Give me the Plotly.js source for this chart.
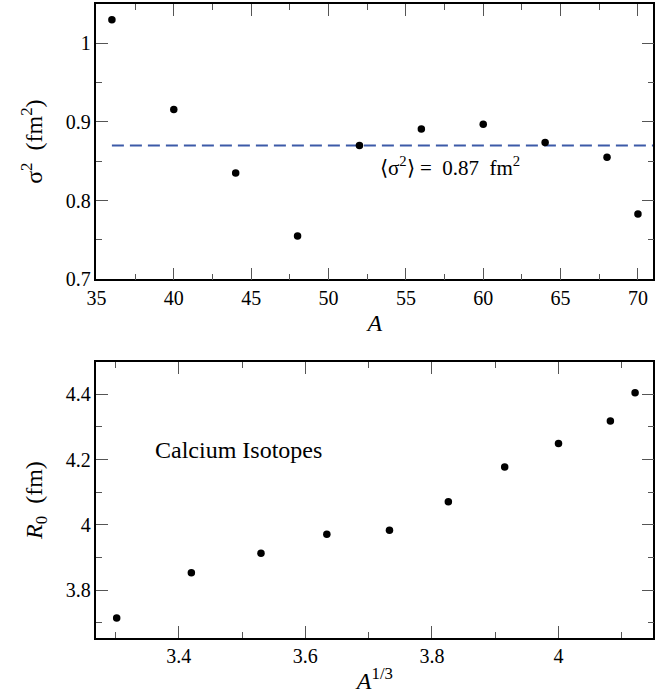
<!DOCTYPE html>
<html>
<head>
<meta charset="utf-8">
<script src="https://cdn.plot.ly/plotly-3.0.1.min.js"></script>
</head>
<body style="margin:0;background:#fff">
<div id="chart" style="width:665px;height:698px;"></div>
<script>
// Top panel: sigma^2 vs A
const massNumbers = [36, 40, 44, 48, 52, 56, 60, 64, 68, 70];
const sigmaSquared = [1.030, 0.916, 0.835, 0.755, 0.870, 0.891, 0.897, 0.874, 0.855, 0.783];
const meanLineX = [36, 71];
const meanLineY = [0.87, 0.87];
const meanLabel = "\u27E8\u03C3<sup>2</sup>\u27E9 =  0.87  fm<sup>2</sup>";

// Bottom panel: R0 vs A^(1/3)
const cubeRootA = [3.302, 3.420, 3.530, 3.634, 3.733, 3.826, 3.915, 4.000, 4.082, 4.121];
const radiusR0 = [3.714, 3.853, 3.913, 3.971, 3.983, 4.071, 4.177, 4.249, 4.318, 4.405];
const panelLabel = "Calcium Isotopes";

const FAM = "Liberation Serif";

function axisBase(extra) {
  return Object.assign({
    showline: true, linecolor: "#000", linewidth: 1.5, mirror: "ticks",
    ticks: "inside", ticklen: 12, tickwidth: 1.2, tickcolor: "#555",
    showgrid: false, zeroline: false,
    tickfont: {family: FAM, size: 20, color: "#000"}
  }, extra);
}

function minorTicks(dt, t0) {
  return {ticks: "inside", ticklen: 6, tickwidth: 1.2, tickcolor: "#555", dtick: dt, tick0: t0, showgrid: false};
}

function titleObj(txt, standoff) {
  return {text: txt, standoff: standoff, font: {family: FAM, size: 24, color: "#000"}};
}

const traces = [
  {x: meanLineX, y: meanLineY, xaxis: "x", yaxis: "y", mode: "lines",
   line: {color: "#3c5aa8", width: 2, dash: "12px,6px"}, hoverinfo: "skip", showlegend: false},
  {x: massNumbers, y: sigmaSquared, xaxis: "x", yaxis: "y", mode: "markers",
   marker: {color: "#000", size: 7.5}, showlegend: false},
  {x: cubeRootA, y: radiusR0, xaxis: "x2", yaxis: "y2", mode: "markers",
   marker: {color: "#000", size: 7.5}, showlegend: false}
];

const layout = {
  width: 665, height: 698,
  margin: {l: 0, r: 0, t: 0, b: 0},
  paper_bgcolor: "#fff", plot_bgcolor: "#fff",
  font: {family: FAM, color: "#000", size: 20},
  showlegend: false,
  xaxis: axisBase({domain: [0.145, 0.9826], range: [35, 71], anchor: "y",
    tickmode: "linear", tick0: 35, dtick: 5, minor: minorTicks(2.5, 35),
    title: titleObj("<i>A</i>", 6)}),
  yaxis: axisBase({domain: [0.5999, 0.9943], range: [0.7, 1.05], anchor: "x",
    tickmode: "linear", tick0: 0.7, dtick: 0.1, minor: minorTicks(0.05, 0.7),
    title: titleObj("\u03C3<sup>2</sup>  (fm<sup>2</sup>)", 16)}),
  xaxis2: axisBase({domain: [0.145, 0.9826], range: [3.27, 4.15], anchor: "y2",
    tickmode: "linear", tick0: 3.4, dtick: 0.2, minor: minorTicks(0.1, 3.3),
    title: titleObj("<i>A</i><sup>1/3</sup>", 6)}),
  yaxis2: axisBase({domain: [0.0864, 0.4809], range: [3.654, 4.498], anchor: "x2",
    tickmode: "linear", tick0: 3.8, dtick: 0.2, minor: minorTicks(0.1, 3.7),
    title: titleObj("<i>R</i><sub>0</sub>  (fm)", 16)}),
  annotations: [
    {text: meanLabel, xref: "x", yref: "y", x: 53.2, y: 0.843, xanchor: "left", yanchor: "middle",
     showarrow: false, font: {family: FAM, size: 21, color: "#000"}},
    {text: panelLabel, xref: "x2", yref: "y2", x: 3.359, y: 4.228, xanchor: "left", yanchor: "middle",
     showarrow: false, font: {family: FAM, size: 24, color: "#000"}}
  ]
};

Plotly.newPlot("chart", traces, layout, {displayModeBar: false});
</script>
</body>
</html>
